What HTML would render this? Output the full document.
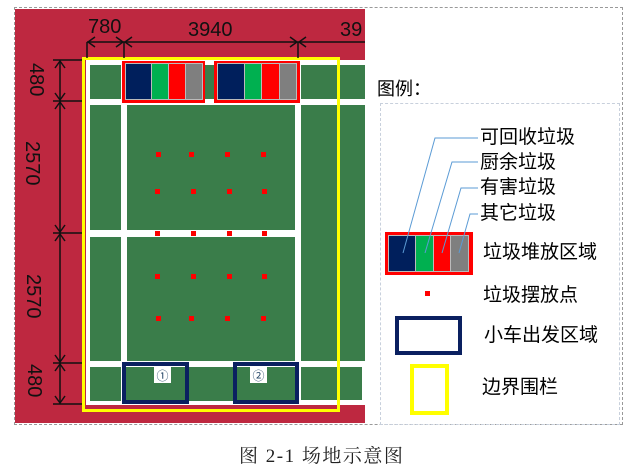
<!DOCTYPE html>
<html><head><meta charset="utf-8"><style>
body{margin:0;width:634px;height:476px;background:#fff;position:relative;overflow:hidden;font-family:"Liberation Sans","Noto Sans CJK SC",sans-serif}
div{position:absolute;box-sizing:border-box}
.g{background:#3a7d4a}
.d{background:#f00;width:5px;height:5px}
.t{font-size:19px;color:#000;white-space:nowrap;line-height:1}
.s{border:1px solid #bbb}
</style></head><body>
<div style="left:14px;top:7px;width:609px;height:418px;border:1px dashed #999"></div>
<div style="left:15px;top:9px;width:350px;height:414px;background:#be2840"></div>
<div style="left:86px;top:60px;width:279px;height:345px;background:#fff"></div>
<div class="g" style="left:90px;top:65px;width:31px;height:34px"></div>
<div class="g" style="left:124px;top:65px;width:174px;height:34px"></div>
<div class="g" style="left:301px;top:65px;width:64px;height:34px"></div>
<div class="g" style="left:90px;top:105px;width:31px;height:125px"></div>
<div class="g" style="left:127px;top:105px;width:168px;height:125px"></div>
<div class="g" style="left:301px;top:105px;width:64px;height:256px"></div>
<div class="g" style="left:90px;top:237px;width:31px;height:124px"></div>
<div class="g" style="left:127px;top:237px;width:168px;height:124px"></div>
<div class="g" style="left:90px;top:367px;width:31px;height:34px"></div>
<div class="g" style="left:124px;top:367px;width:174px;height:34px"></div>
<div class="g" style="left:301px;top:367px;width:61px;height:33px"></div>
<div style="left:122px;top:61px;width:83px;height:42px;background:#f00"></div>
<div class="s" style="left:125px;top:63px;width:27px;height:37px;background:#001f5c"></div>
<div class="s" style="left:151px;top:63px;width:18px;height:37px;background:#00b050"></div>
<div class="s" style="left:168px;top:63px;width:18px;height:37px;background:#f00"></div>
<div class="s" style="left:185px;top:63px;width:18px;height:37px;background:#7f7f7f"></div>
<div style="left:214px;top:61px;width:86px;height:42px;background:#f00"></div>
<div class="s" style="left:217px;top:63px;width:28px;height:37px;background:#001f5c"></div>
<div class="s" style="left:244px;top:63px;width:18px;height:37px;background:#00b050"></div>
<div class="s" style="left:261px;top:63px;width:19px;height:37px;background:#f00"></div>
<div class="s" style="left:279px;top:63px;width:18px;height:37px;background:#7f7f7f"></div>
<div class="d" style="left:156px;top:152px"></div><div class="d" style="left:189px;top:152px"></div><div class="d" style="left:225px;top:152px"></div><div class="d" style="left:261px;top:152px"></div>
<div class="d" style="left:155px;top:189px"></div><div class="d" style="left:191px;top:189px"></div><div class="d" style="left:227px;top:189px"></div><div class="d" style="left:262px;top:189px"></div>
<div class="d" style="left:155px;top:231px"></div><div class="d" style="left:191px;top:231px"></div><div class="d" style="left:227px;top:231px"></div><div class="d" style="left:262px;top:231px"></div>
<div class="d" style="left:155px;top:274px"></div><div class="d" style="left:191px;top:274px"></div><div class="d" style="left:227px;top:274px"></div><div class="d" style="left:262px;top:274px"></div>
<div class="d" style="left:156px;top:316px"></div><div class="d" style="left:189px;top:316px"></div><div class="d" style="left:225px;top:316px"></div><div class="d" style="left:261px;top:316px"></div>
<div style="left:122px;top:362px;width:67px;height:42px;border:4px solid #0a2060"></div>
<div style="left:233px;top:362px;width:66px;height:42px;border:4px solid #0a2060"></div>
<div style="left:154px;top:367px;width:17px;height:16px;background:#fff;font-size:12px;text-align:center;color:#246">①</div>
<div style="left:250px;top:367px;width:17px;height:16px;background:#fff;font-size:12px;text-align:center;color:#246">②</div>
<div style="left:82px;top:57px;width:258px;height:355px;border:3px solid #ff0"></div>
<svg style="position:absolute;left:0;top:0" width="634" height="476">
<g stroke="#111" stroke-width="1.5" fill="none">
<line x1="87" y1="42" x2="365" y2="42"/>
<line x1="87" y1="42" x2="87" y2="58"/><line x1="124" y1="42" x2="124" y2="58"/><line x1="298" y1="42" x2="298" y2="58"/>
<line x1="60" y1="60" x2="60" y2="404"/>
<line x1="53" y1="60" x2="82" y2="60"/><line x1="53" y1="101" x2="82" y2="101"/><line x1="53" y1="233" x2="82" y2="233"/><line x1="53" y1="363" x2="82" y2="363"/><line x1="53" y1="404" x2="82" y2="404"/>
<path d="M95 37L88 42L95 47M116 37L123 42L116 47M132 37L125 42L132 47M290 37L297 42L290 47M306 37L299 42L306 47"/>
<path d="M55 68L60 61L65 68M55 93L60 100L65 93M55 109L60 102L65 109M55 225L60 232L65 225M55 241L60 234L65 241M55 355L60 362L65 355M55 371L60 364L65 371M55 396L60 403L65 396"/>
</g>
<g font-family="Liberation Sans" font-size="20" fill="#111">
<text x="88" y="33">780</text><text x="188" y="36">3940</text><text x="340" y="36">39</text>
<text transform="translate(30,63) rotate(90)">480</text>
<text transform="translate(26,141) rotate(90)">2570</text>
<text transform="translate(27,274) rotate(90)">2570</text>
<text transform="translate(28,364) rotate(90)">480</text>
</g>
</svg>
<div class="t" style="left:377px;top:80px;font-size:18px">图例：</div>
<div style="left:380px;top:103px;width:240px;height:322px;border:1px dashed #c8d0dc"></div>
<div style="left:385px;top:232px;width:88px;height:43px;background:#f00"></div>
<div class="s" style="left:388px;top:235px;width:28px;height:37px;background:#001f5c"></div>
<div class="s" style="left:415px;top:235px;width:19px;height:37px;background:#00b050"></div>
<div class="s" style="left:433px;top:235px;width:18px;height:37px;background:#f00"></div>
<div class="s" style="left:450px;top:235px;width:19px;height:37px;background:#7f7f7f"></div>
<svg style="position:absolute;left:0;top:0" width="634" height="476"><g stroke="#5b9bd5" stroke-width="1" fill="none">
<polyline points="403,253 435,138 478,138"/><polyline points="425,253 452,162 478,162"/>
<polyline points="442,253 461,188 478,188"/><polyline points="459,253 470,214 478,214"/></g></svg>
<div class="t" style="left:480px;top:128px">可回收垃圾</div>
<div class="t" style="left:480px;top:153px">厨余垃圾</div>
<div class="t" style="left:480px;top:178px">有害垃圾</div>
<div class="t" style="left:480px;top:204px">其它垃圾</div>
<div class="t" style="left:483px;top:243px">垃圾堆放区域</div>
<div style="left:425px;top:291px;width:5px;height:5px;background:#f00"></div>
<div class="t" style="left:483px;top:286px">垃圾摆放点</div>
<div style="left:395px;top:316px;width:67px;height:39px;border:4px solid #0a2060"></div>
<div class="t" style="left:484px;top:326px">小车出发区域</div>
<div style="left:410px;top:364px;width:39px;height:51px;border:4px solid #ff0"></div>
<div class="t" style="left:482px;top:378px">边界围栏</div>
<div style="left:239px;top:447px;font-family:'Liberation Serif','Noto Serif CJK SC',serif;font-size:19px;letter-spacing:1.5px;color:#222;white-space:nowrap;line-height:1">图 2-1 场地示意图</div>
</body></html>
